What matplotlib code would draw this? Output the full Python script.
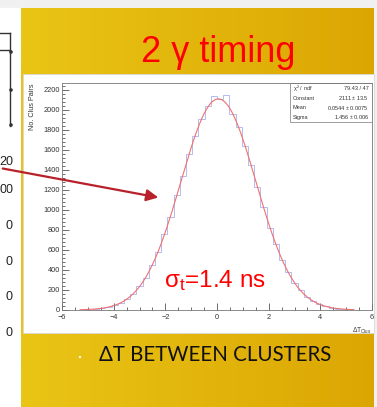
import numpy as np
import matplotlib
matplotlib.use('Agg')
import matplotlib.pyplot as plt
from matplotlib.ticker import MultipleLocator
from matplotlib.patches import Rectangle, Circle

plt.rcParams['font.family'] = ['Liberation Sans', 'DejaVu Sans']
plt.rcParams['mathtext.fontset'] = 'custom'
plt.rcParams['mathtext.rm'] = 'Liberation Sans'
plt.rcParams['mathtext.it'] = 'Liberation Sans'

# histogram of cluster time differences (50 bins, -6..6 ns)
bin_lo, bin_hi, n_bins = -6.0, 6.0, 50
counts = [0, 1, 2, 4, 5, 11, 20, 27, 49, 70,
          114, 160, 238, 322, 446, 580, 756, 930, 1150, 1345,
          1565, 1740, 1915, 2040, 2140, 2110, 2150, 1960, 1830, 1640,
          1455, 1230, 1035, 825, 660, 498, 380, 270, 196, 130,
          91, 56, 38, 22, 14, 7, 5, 2, 1, 0]

# gaussian fit results
fit_const, fit_mean, fit_sigma = 2111.0, 0.0544, 1.456
stats_rows = [(r'$\chi^2$ / ndf', '79.43 / 47'),
              ('Constant', '2111 $\\pm$ 13.5'),
              ('Mean', '0.0544 $\\pm$ 0.0075'),
              ('Sigma', '1.456 $\\pm$ 0.006')]

side_numbers = ['20', '00', '0', '0', '0', '0']
side_rows_y = [162, 190, 226, 262, 297, 333]

W, H = 377, 407
fig = plt.figure(figsize=(W / 100, H / 100), dpi=100)

# slide background in pixel coordinates
bg = fig.add_axes([0, 0, 1, 1])
bg.set_xlim(0, W)
bg.set_ylim(H, 0)
bg.axis('off')
bg.add_patch(Rectangle((0, 0), W, H, color='#f0f0f0', zorder=0))
bg.add_patch(Rectangle((0, 8), 21, H, color='white', zorder=1))
c_left = np.array([233, 197, 22]) / 255
c_right = np.array([220, 166, 2]) / 255
t = np.linspace(0, 1, 200)
grad = c_left[None, None, :] * (1 - t[None, :, None]) + c_right[None, None, :] * t[None, :, None]
bg.imshow(grad, extent=(21, 374, H, 8), aspect='auto', zorder=2)
bg.add_patch(Rectangle((23, 74), 351, 259, facecolor='white',
                       edgecolor='#d8d8d8', lw=0.6, zorder=3))

# fragment of the neighbouring table on the left
bg.plot([0, 10], [33, 33], color='#333333', lw=1.0, zorder=4)
bg.plot([0, 10], [50, 50], color='#333333', lw=1.0, zorder=4)
bg.plot([10, 10], [33, 126], color='#333333', lw=1.0, zorder=4)
for yy in [52, 90, 125]:
    bg.add_patch(Circle((11, yy), 1.8, facecolor='#333333', zorder=4))
for s, yy in zip(side_numbers, side_rows_y):
    bg.text(13, yy, s, ha='right', va='center', fontsize=9, color='#222222', zorder=4)

bg.text(218, 52, '2 γ timing', ha='center', va='center', fontsize=26, color='#ff0000', zorder=4)
bg.add_patch(Circle((80, 357), 1.2, facecolor='#fff8e0', edgecolor='none', zorder=4))
bg.text(215, 355, 'ΔT BETWEEN CLUSTERS', ha='center', va='center', fontsize=14.8,
        family=['Lato', 'DejaVu Sans'], color='#111111', zorder=4)

# ROOT style histogram
ax = fig.add_axes([62 / W, 1 - 310 / H, 310 / W, 227 / H])
edges = np.linspace(bin_lo, bin_hi, n_bins + 1)
ax.stairs(counts, edges, color='#b4bcf0', lw=0.7)
xf = np.linspace(-5.3, 5.3, 400)
yf = fit_const * np.exp(-0.5 * ((xf - fit_mean) / fit_sigma) ** 2)
ax.plot(xf, yf, color='#f07070', lw=0.8)
ax.set_xlim(-6, 6)
ax.set_ylim(0, 2270)
ax.xaxis.set_major_locator(MultipleLocator(2))
ax.xaxis.set_minor_locator(MultipleLocator(0.5))
ax.yaxis.set_major_locator(MultipleLocator(200))
ax.yaxis.set_minor_locator(MultipleLocator(40))
ax.tick_params(which='both', direction='in', labelsize=5.3, colors='#333333', width=0.5)
ax.tick_params(which='major', length=5)
ax.tick_params(axis='x', which='major', pad=3.0)
ax.tick_params(axis='y', which='major', pad=1.5)
ax.tick_params(which='minor', length=2.5)
for sp in ax.spines.values():
    sp.set_linewidth(0.6)
    sp.set_color('#777777')
ax.text(-0.095, 1.0, 'No. Clus Pairs', transform=ax.transAxes, rotation=90,
        ha='center', va='top', fontsize=5.2, color='#333333')
ax.text(1.0, -0.07, r'$\Delta$T$_{\mathregular{Clus}}$', transform=ax.transAxes,
        ha='right', va='top', fontsize=4.8, color='#333333')

# fit statistics box
box = Rectangle((0.735, 0.828), 0.265, 0.172, transform=ax.transAxes,
                facecolor='white', edgecolor='#777777', lw=0.5)
ax.add_patch(box)
for i, (k, v) in enumerate(stats_rows):
    yy = 0.975 - i * 0.042
    ax.text(0.745, yy, k, transform=ax.transAxes, fontsize=4.0, va='center', color='#333333')
    ax.text(0.99, yy, v, transform=ax.transAxes, fontsize=4.0, va='center', ha='right', color='#333333')

ax.text(0.495, 0.13, r'$\mathregular{\sigma_t}$=1.4 ns', transform=ax.transAxes,
        ha='center', va='center', fontsize=17.5, color='#ff0000')

# pointer arrow over everything
ov = fig.add_axes([0, 0, 1, 1])
ov.set_xlim(0, W)
ov.set_ylim(H, 0)
ov.axis('off')
ov.patch.set_alpha(0)
ov.annotate('', xy=(161, 198), xytext=(0, 168),
            arrowprops=dict(arrowstyle='-|>,head_length=0.7,head_width=0.35',
                            color='#b8202a', lw=1.6))

fig.savefig('out.png', dpi=100)
